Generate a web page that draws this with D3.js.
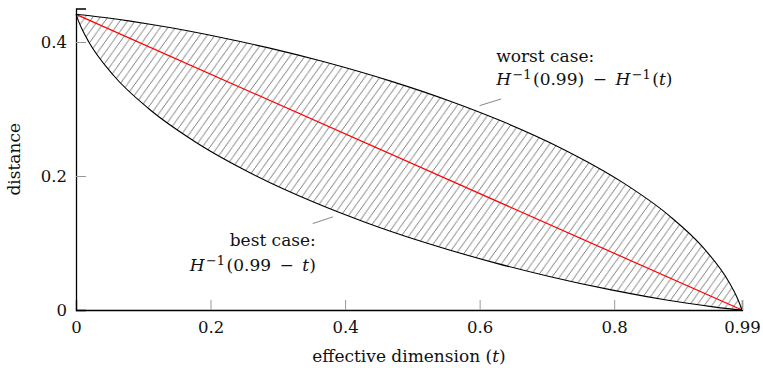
<!DOCTYPE html>
<html><head><meta charset="utf-8">
<script src="https://cdn.jsdelivr.net/npm/d3@7"></script>
<style>
body{margin:0;background:#fff}
text{font-family:"DejaVu Serif",serif;fill:#111}
</style>
</head><body>
<svg id="chart" width="763" height="368"></svg>
<script>
// ---- data ----
const xTicks = [0, 0.2, 0.4, 0.6, 0.8, 0.99];
const xTickLabels = ["0", "0.2", "0.4", "0.6", "0.8", "0.99"];
const yTicks = [0, 0.2, 0.4];
const yTickLabels = ["0", "0.2", "0.4"];

// worst case: H^-1(0.99) - H^-1(t)
const worstT = [0, 0.002746, 0.011408, 0.020814, 0.045415, 0.080793, 0.11236, 0.141441, 0.194392, 0.242292, 0.286397, 0.365923, 0.468996, 0.557438, 0.63431, 0.721928, 0.811278, 0.881291, 0.934068, 0.970951, 0.981454, 0.985815, 0.99];
const worstD = [0.4412, 0.441, 0.4402, 0.4392, 0.4362, 0.4312, 0.4262, 0.4212, 0.4112, 0.4012, 0.3912, 0.3712, 0.3412, 0.3112, 0.2812, 0.2412, 0.1912, 0.1412, 0.0912, 0.0412, 0.0212, 0.0112, 0];

// best case: H^-1(0.99 - t)
const bestT = [0, 0.004185, 0.008546, 0.019049, 0.055932, 0.108709, 0.178722, 0.268072, 0.35569, 0.432562, 0.521004, 0.624077, 0.703603, 0.747708, 0.795608, 0.848559, 0.87764, 0.909207, 0.944585, 0.969186, 0.978592, 0.987254, 0.99];
const bestD = [0.4412, 0.43, 0.42, 0.4, 0.35, 0.3, 0.25, 0.2, 0.16, 0.13, 0.1, 0.07, 0.05, 0.04, 0.03, 0.02, 0.015, 0.01, 0.005, 0.002, 0.001, 0.0002, 0];

// straight reference line
const redT = [0, 0.99];
const redD = [0.4412, 0];

// annotation pins (data coords)
const worstPin = [[0.6, 0.305], [0.632, 0.315]];
const bestPin = [[0.352, 0.129], [0.382, 0.139]];

// ---- chart ----
const svg = d3.select("#chart");
const x = d3.scaleLinear().domain([0, 0.99]).range([76, 742]);
const y = d3.scaleLinear().domain([0, 0.45]).range([310, 8.5]);
const FONT = "DejaVu Serif, serif";
const fs = 17;

const defs = svg.append("defs");
const hw = 7.5, hh = 10.5;
const pat = defs.append("pattern").attr("id", "hatch")
  .attr("patternUnits", "userSpaceOnUse").attr("width", hw).attr("height", hh);
pat.append("path").attr("d", `M${-hw},${2*hh}L${2*hw},${-hh}`)
  .attr("stroke", "#626262").attr("stroke-width", 0.85).attr("fill", "none");

const worst = worstT.map((t, i) => [t, worstD[i]]);
const best = bestT.map((t, i) => [t, bestD[i]]);
const red = redT.map((t, i) => [t, redD[i]]);

const line = d3.line().x(d => x(d[0])).y(d => y(d[1])).curve(d3.curveMonotoneX);
const lineLin = d3.line().x(d => x(d[0])).y(d => y(d[1]));

// hatch area between curves
const areaPath = line(worst) + line(best.slice().reverse()).replace(/^M/, "L") + "Z";
svg.append("path").attr("d", areaPath).attr("fill", "url(#hatch)").attr("stroke", "none");

svg.append("path").attr("d", lineLin(red)).attr("fill", "none").attr("stroke", "#ff0000").attr("stroke-width", 1.2);
svg.append("path").attr("d", line(worst)).attr("fill", "none").attr("stroke", "#000").attr("stroke-width", 1.1);
svg.append("path").attr("d", line(best)).attr("fill", "none").attr("stroke", "#000").attr("stroke-width", 1.1);

// axes
const xAxis = d3.axisBottom(x).tickValues(xTicks).tickSize(-10).tickPadding(11)
  .tickFormat((d, i) => xTickLabels[i]);
const gx = svg.append("g").attr("transform", `translate(0,${y(0)})`).call(xAxis);
const yAxis = d3.axisLeft(y).tickValues(yTicks).tickSize(-10).tickPadding(9)
  .tickFormat((d, i) => yTickLabels[i]);
const gy = svg.append("g").attr("transform", `translate(${x(0)},0)`).call(yAxis);
[gx, gy].forEach(g => {
  g.select(".domain").attr("stroke", "#000").attr("stroke-width", 1.3);
  g.selectAll(".tick line").attr("stroke", "#999").attr("stroke-width", 1);
  g.selectAll(".tick text").attr("font-size", 16.5)
    .attr("font-family", FONT).attr("fill", "#111");
});
gx.selectAll(".tick line").filter(d => d === 0).remove();
gy.selectAll(".tick line").filter(d => d === 0).remove();

// axis labels
const xl = svg.append("text").attr("x", (x(0) + x(0.99)) / 2).attr("y", 362)
  .attr("text-anchor", "middle").attr("font-size", fs);
xl.append("tspan").text("effective dimension (");
xl.append("tspan").attr("font-style", "italic").text("t");
xl.append("tspan").text(")");

svg.append("text").attr("transform", `translate(20,${y(0.225)}) rotate(-90)`)
  .attr("text-anchor", "middle").attr("font-size", fs).text("distance");

// annotations
function formula(t, parts) {
  let up = false;
  parts.forEach(([s, k]) => {
    const ts = t.append("tspan").text(s);
    if (k === "i") ts.attr("font-style", "italic");
    if (k === "s") { ts.attr("font-size", fs * 0.76).attr("dy", -6).attr("dx", 1.5); up = true; }
    else if (up) { ts.attr("dy", 6).attr("dx", 1.5); up = false; }
  });
}
svg.append("path").attr("d", lineLin(worstPin)).attr("stroke", "#888").attr("stroke-width", 1).attr("fill", "none");
svg.append("path").attr("d", lineLin(bestPin)).attr("stroke", "#888").attr("stroke-width", 1).attr("fill", "none");

const wx = x(worstPin[1][0]) - 5, wy = y(worstPin[1][1]);
svg.append("text").attr("x", wx).attr("y", wy - 37).attr("font-size", fs).text("worst case:");
const w2 = svg.append("text").attr("x", wx).attr("y", wy - 14).attr("font-size", fs);
formula(w2, [["H", "i"], ["\u22121", "s"], ["(0.99)\u2002\u2212\u2002", "n"], ["H", "i"], ["\u22121", "s"], ["(", "n"], ["t", "i"], [")", "n"]]);

const bx = x(bestPin[0][0]) + 3, by = y(bestPin[0][1]);
svg.append("text").attr("x", bx).attr("y", by + 22).attr("font-size", fs)
  .attr("text-anchor", "end").text("best case:");
const b2 = svg.append("text").attr("x", bx).attr("y", by + 47).attr("font-size", fs).attr("text-anchor", "end");
formula(b2, [["H", "i"], ["\u22121", "s"], ["(0.99\u2002\u2212\u2002", "n"], ["t", "i"], [")", "n"]]);
</script>
</body></html>
